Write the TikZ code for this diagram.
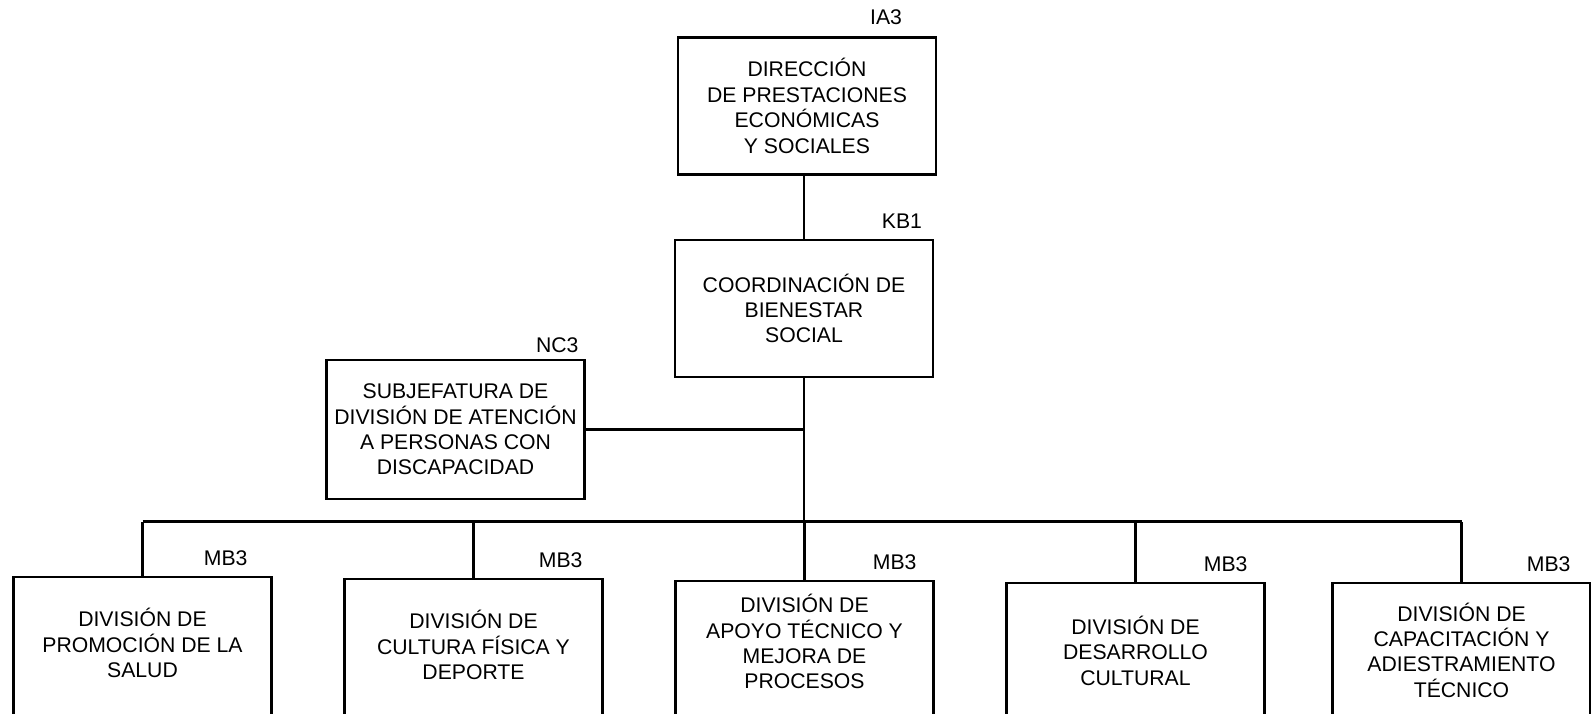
\documentclass[tikz,border=0pt]{standalone}
\usepackage{fontspec}
\setmainfont{Liberation Sans}
\usetikzlibrary{positioning}

\begin{document}
\begin{tikzpicture}[x=0.5pt,y=-0.5pt,line width=1.2pt,node distance=165.5pt,
  unit/.style={draw,rectangle,align=center,minimum width=129pt,minimum height=68.5pt,
    inner sep=2pt,font=\fontsize{10.6}{12.7}\selectfont},
  low/.style={unit,minimum height=69pt},
  code/.style={anchor=base east,inner sep=0pt,yshift=5pt,font=\fontsize{10.6}{12.7}\selectfont}]

\useasboundingbox (0,0) rectangle (1591,713);

\node[unit,label={[code,xshift=-17pt,yshift=1pt]north east:IA3}]  (dir)   at (807,106)
  {DIRECCIÓN\\DE PRESTACIONES\\ECONÓMICAS\\Y SOCIALES};
\node[unit,label={[code,xshift=-5.5pt]north east:KB1}]  (coord) at (804,308.5)
  {COORDINACIÓN DE\\BIENESTAR\\SOCIAL};
\node[unit,minimum height=69.5pt,label={[code,xshift=-3pt,yshift=-2pt]north east:NC3}] (subj) at (455.5,429.5)
  {SUBJEFATURA DE\\DIVISIÓN DE ATENCIÓN\\A PERSONAS CON\\DISCAPACIDAD};

\node[low,text depth=3pt,label={[code,xshift=-12pt]north east:MB3}] (b1) at (142.5,646)
  {DIVISIÓN DE\\PROMOCIÓN DE LA\\SALUD};
\node[low,text depth=3pt,label={[code,xshift=-10pt]north east:MB3}] (b2) [right of=b1,yshift=-1pt]
  {DIVISIÓN DE\\CULTURA FÍSICA Y\\DEPORTE};
\node[low,text depth=8.5pt,label={[code,xshift=-8.5pt]north east:MB3}]    (b3) [right of=b2,yshift=-1pt]
  {DIVISIÓN DE\\APOYO TÉCNICO Y\\MEJORA DE\\PROCESOS};
\node[low,text depth=1.5pt,label={[code,xshift=-8.5pt]north east:MB3}]    (b4) [right of=b3,yshift=-1pt]
  {DIVISIÓN DE\\DESARROLLO\\CULTURAL};
\node[low,text depth=2pt,label={[code,xshift=-10pt]north east:MB3}] (b5) [right of=b4,xshift=-2.5pt]
  {DIVISIÓN DE\\CAPACITACIÓN Y\\ADIESTRAMIENTO\\TÉCNICO};

\coordinate (bus) at (0,521.5);

\draw (coord.north) -- (coord.north |- dir.south);
\draw (coord.south) -- (coord.south |- bus);
\draw (subj.east) -- (subj.east -| coord.south);
\draw (b1.north |- bus) -- (b5.north |- bus);
\foreach \b in {b1,b2,b3,b4,b5}
  \draw (\b.north) -- (\b.north |- bus);

\end{tikzpicture}
\end{document}
